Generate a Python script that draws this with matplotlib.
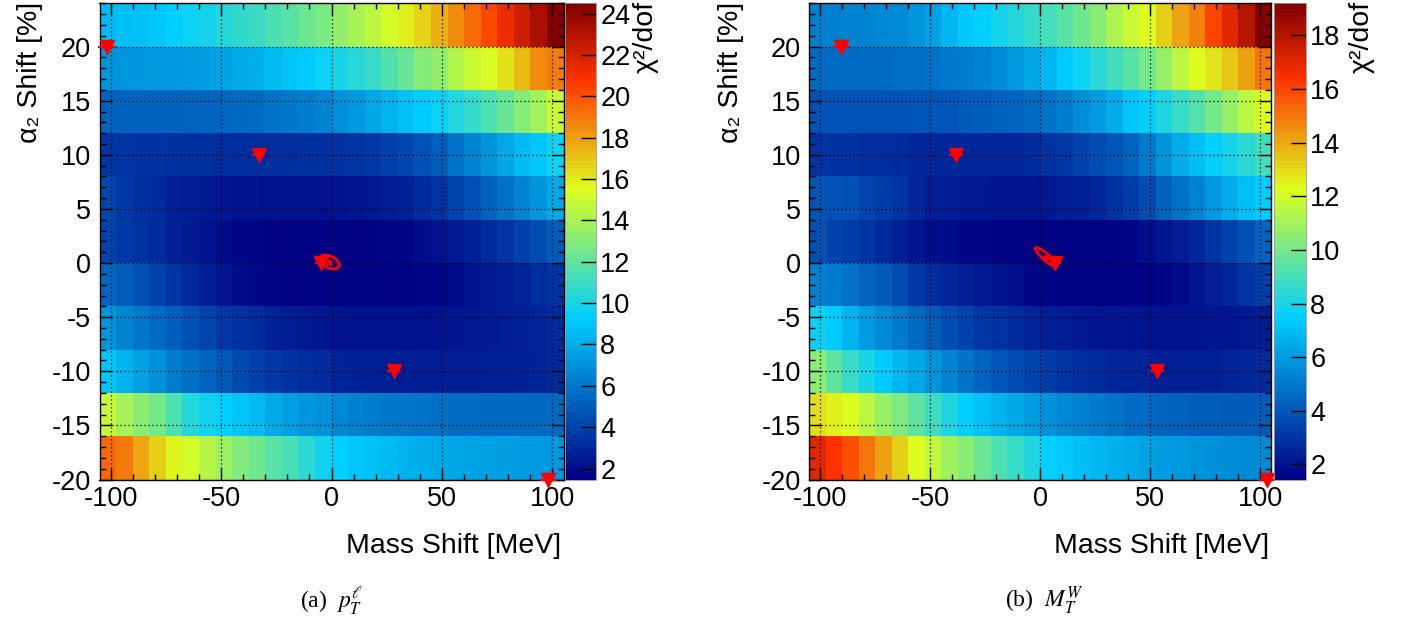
import numpy as np
import matplotlib
matplotlib.use("Agg")
import matplotlib.pyplot as plt
from matplotlib.colors import LinearSegmentedColormap
from matplotlib.ticker import MultipleLocator

plt.rcParams['font.family'] = ['Liberation Sans', 'DejaVu Sans']
plt.rcParams['axes.unicode_minus'] = False
plt.rcParams['mathtext.fontset'] = 'stix'

# ---------------- binning ----------------
mass_edges = np.linspace(-105, 105, 29)     # MeV, 28 bins
alpha_edges = np.linspace(-20, 24, 12)      # %, 11 bins

# ---------------- panel (a) p_T^l : chi2/dof, rows from alpha=-20 upward ----------------
pt_row_m20 = [19.4, 19.0, 17.8, 16.7, 15.7, 15.2, 14.4, 13.7, 12.9, 12.4, 11.8, 11.3, 10.5, 9.8,
              9.3, 9.0, 8.8, 8.5, 8.3, 8.1, 7.9, 7.8, 7.7, 7.6, 7.5, 7.4, 7.4, 7.3]
pt_row_m16 = [14.8, 13.9, 13.2, 12.6, 11.5, 10.3, 9.8, 9.3, 8.9, 8.5, 7.9, 7.5, 7.2, 6.9,
              6.6, 6.4, 6.2, 6.0, 5.9, 5.8, 5.7, 5.6, 5.6, 5.5, 5.5, 5.5, 5.5, 5.5]
pt_row_m12 = [9.0, 8.3, 7.6, 7.0, 6.3, 5.7, 5.3, 4.8, 4.3, 3.9, 3.6, 3.4, 3.2, 3.0,
              2.9, 2.8, 2.7, 2.7, 2.6, 2.6, 2.6, 2.6, 2.6, 2.7, 2.7, 2.8, 2.9, 3.0]
pt_row_m08 = [7.2, 6.5, 6.0, 5.6, 5.1, 4.6, 4.1, 3.7, 3.4, 3.1, 2.8, 2.6, 2.4, 2.3,
              2.2, 2.1, 2.1, 2.1, 2.1, 2.1, 2.2, 2.3, 2.4, 2.5, 2.6, 2.7, 2.9, 3.1]
pt_row_m04 = [5.4, 5.0, 4.5, 4.0, 3.5, 3.0, 2.6, 2.3, 2.0, 1.8, 1.7, 1.6, 1.55, 1.5,
              1.5, 1.5, 1.5, 1.55, 1.6, 1.7, 1.8, 2.0, 2.2, 2.4, 2.6, 2.9, 3.2, 3.5]
pt_row_p00 = [4.0, 3.7, 3.4, 3.1, 2.8, 2.5, 2.2, 2.0, 1.8, 1.7, 1.6, 1.55, 1.5, 1.5,
              1.5, 1.55, 1.6, 1.7, 1.8, 2.0, 2.2, 2.5, 2.8, 3.1, 3.5, 3.9, 4.4, 5.0]
pt_row_p04 = [4.2, 3.7, 3.3, 3.1, 2.8, 2.6, 2.4, 2.3, 2.2, 2.2, 2.1, 2.1, 2.1, 2.1,
              2.2, 2.3, 2.4, 2.6, 2.8, 3.1, 3.5, 4.0, 4.6, 5.2, 5.8, 6.5, 7.2, 7.8]
pt_row_p08 = [3.6, 3.5, 3.4, 3.4, 3.3, 3.3, 3.3, 3.2, 3.2, 3.2, 3.2, 3.2, 3.3, 3.3,
              3.4, 3.5, 3.7, 3.9, 4.2, 4.6, 5.1, 5.8, 6.5, 7.1, 7.8, 8.5, 9.0, 9.7]
pt_row_p12 = [5.3, 5.2, 5.2, 5.2, 5.2, 5.3, 5.3, 5.4, 5.5, 5.6, 5.8, 6.0, 6.2, 6.5,
              6.9, 7.3, 7.8, 8.3, 8.8, 9.2, 9.6, 10.2, 10.8, 11.5, 12.2, 13.0, 13.8, 14.9]
pt_row_p16 = [7.2, 7.2, 7.2, 7.3, 7.3, 7.4, 7.5, 7.7, 7.9, 8.2, 8.5, 8.9, 9.2, 9.6,
              10.0, 10.4, 10.9, 11.6, 12.2, 13.0, 13.4, 14.3, 14.9, 15.4, 16.3, 17.3, 18.5, 18.9]
pt_row_p20 = [8.6, 8.7, 8.8, 9.0, 9.3, 9.6, 9.9, 10.3, 10.7, 11.0, 11.4, 11.8, 12.3, 12.8,
              13.4, 14.0, 14.6, 15.2, 15.9, 16.6, 17.5, 18.5, 19.3, 20.2, 21.3, 22.3, 23.3, 24.4]

# ---------------- panel (b) M_T^W ----------------
mt_row_m20 = [17.0, 16.4, 15.8, 15.0, 14.2, 13.2, 12.3, 11.6, 10.9, 10.4, 9.8, 9.2, 8.7, 8.1,
              7.5, 7.3, 7.0, 6.8, 6.6, 6.4, 6.2, 6.0, 5.9, 5.8, 5.7, 5.6, 5.5, 5.5]
mt_row_m16 = [12.9, 12.6, 12.3, 11.5, 10.8, 10.2, 9.5, 8.8, 8.1, 7.5, 7.1, 6.7, 6.3, 6.0,
              5.7, 5.4, 5.2, 5.0, 4.8, 4.6, 4.5, 4.4, 4.3, 4.2, 4.2, 4.1, 4.1, 4.1]
mt_row_m12 = [10.4, 9.5, 8.7, 8.0, 7.4, 6.8, 6.3, 5.8, 5.3, 4.8, 4.4, 4.0, 3.7, 3.4,
              3.2, 3.0, 2.8, 2.7, 2.6, 2.5, 2.5, 2.4, 2.4, 2.4, 2.4, 2.5, 2.6, 2.7]
mt_row_m08 = [7.7, 7.4, 6.7, 6.0, 5.5, 5.0, 4.5, 4.1, 3.7, 3.4, 3.1, 2.9, 2.7, 2.5,
              2.4, 2.3, 2.2, 2.1, 2.1, 2.0, 2.0, 2.0, 2.0, 2.0, 2.1, 2.1, 2.2, 2.3]
mt_row_m04 = [5.2, 5.0, 4.8, 4.4, 4.1, 3.7, 3.1, 2.8, 2.6, 2.4, 2.2, 2.0, 1.9, 1.7,
              1.6, 1.55, 1.5, 1.5, 1.5, 1.5, 1.55, 1.6, 1.8, 2.1, 2.4, 2.6, 3.0, 3.3]
mt_row_p00 = [3.8, 3.4, 3.2, 3.0, 2.7, 2.4, 2.1, 1.9, 1.8, 1.7, 1.6, 1.5, 1.5, 1.45,
              1.45, 1.45, 1.5, 1.5, 1.55, 1.6, 1.9, 2.1, 2.3, 2.6, 3.0, 3.4, 3.8, 4.4]
mt_row_p04 = [4.0, 3.9, 3.8, 3.5, 3.2, 3.0, 2.6, 2.4, 2.3, 2.2, 2.2, 2.1, 2.1, 2.1,
              2.2, 2.3, 2.4, 2.6, 2.9, 3.2, 3.7, 4.3, 4.8, 5.3, 5.9, 6.5, 7.0, 7.4]
mt_row_p08 = [3.0, 2.9, 2.9, 2.8, 2.8, 2.7, 2.6, 2.6, 2.6, 2.6, 2.6, 2.6, 2.6, 2.7,
              2.9, 3.1, 3.4, 3.7, 4.0, 4.4, 5.0, 5.8, 6.5, 7.0, 7.6, 7.9, 8.4, 8.9]
mt_row_p12 = [3.9, 3.9, 3.9, 3.9, 3.9, 3.9, 4.0, 4.0, 4.0, 4.1, 4.2, 4.3, 4.4, 4.6,
              4.8, 5.1, 5.6, 6.0, 6.5, 7.2, 7.6, 8.1, 8.7, 9.3, 10.0, 10.7, 11.5, 12.3]
mt_row_p16 = [4.6, 4.6, 4.6, 4.6, 4.6, 4.7, 4.7, 4.8, 5.0, 5.1, 5.3, 5.6, 5.9, 6.3,
              6.8, 7.4, 7.8, 8.4, 8.9, 9.4, 10.0, 10.7, 11.5, 12.3, 12.8, 13.4, 14.2, 15.0]
mt_row_p20 = [5.2, 5.2, 5.3, 5.3, 5.4, 5.5, 5.8, 6.2, 6.8, 7.3, 7.5, 7.9, 8.2, 8.6,
              9.0, 9.4, 9.9, 10.4, 11.2, 11.8, 12.4, 13.2, 14.1, 14.8, 16.0, 17.0, 18.0, 19.1]

# colour-axis ranges
pt_zrange = (1.47, 24.5)
mt_zrange = (1.44, 19.2)
pt_cticks = [2, 4, 6, 8, 10, 12, 14, 16, 18, 20, 22, 24]
mt_cticks = [2, 4, 6, 8, 10, 12, 14, 16, 18]

# per-alpha best-fit masses (triangles)
fit_alpha = [20, 10, 0, -10, -20]
pt_fit_mass = [-101.5, -33.0, -4.8, 28.3, 98.2]
mt_fit_mass = [-90.4, -38.2, 7.0, 53.2, 103.0]
fit_mass_err = [4.0, 3.0, 2.5, 3.0, 4.0]

# global best fit + 1-sigma contour parameters (centre, half-width in mass, half-height, tilt)
pt_best = (-1.0, 0.1)
pt_contour = (4.5, 0.58, 0.28)
mt_best = (2.7, 0.55)
mt_contour = (4.8, 0.40, 0.78)

xticks = [-100, -50, 0, 50, 100]
yticks = [-20, -15, -10, -5, 0, 5, 10, 15, 20]

# ---------------- ROOT-like palette ----------------
stops = [0.00, 0.34, 0.61, 0.84, 1.00]
reds = [0.00, 0.00, 0.87, 1.00, 0.51]
greens = [0.00, 0.81, 1.00, 0.20, 0.00]
blues = [0.51, 1.00, 0.12, 0.00, 0.00]
cmap = LinearSegmentedColormap.from_list(
    "rootpal", [(s, (r, g, b)) for s, r, g, b in zip(stops, reds, greens, blues)], N=256)

W, H = 1405, 626
fig = plt.figure(figsize=(W / 100, H / 100), dpi=100)


def fx(px):
    return px / W


def fy(py):
    return 1 - py / H


panels = [
    dict(rows=[pt_row_m20, pt_row_m16, pt_row_m12, pt_row_m08, pt_row_m04, pt_row_p00,
               pt_row_p04, pt_row_p08, pt_row_p12, pt_row_p16, pt_row_p20],
         zr=pt_zrange, cticks=pt_cticks, fitm=pt_fit_mass, best=pt_best, cont=pt_contour,
         ax_px=(99.5, 563.5), cb_px=(564.5, 596), ylab_x=30, cbt_x=646, cap_x=300,
         caption=r"(a)  $p_{T}^{\ell}$"),
    dict(rows=[mt_row_m20, mt_row_m16, mt_row_m12, mt_row_m08, mt_row_m04, mt_row_p00,
               mt_row_p04, mt_row_p08, mt_row_p12, mt_row_p16, mt_row_p20],
         zr=mt_zrange, cticks=mt_cticks, fitm=mt_fit_mass, best=mt_best, cont=mt_contour,
         ax_px=(809, 1271), cb_px=(1274, 1306), ylab_x=731, cbt_x=1362, cap_x=1005,
         caption=r"(b)  $M_{T}^{W}$"),
]

top_px, bot_px = 3.3, 479.5
tick_fs = 19.5
title_fs = 20.5

for p in panels:
    x0, x1 = p["ax_px"]
    ax = fig.add_axes([fx(x0), fy(bot_px), (x1 - x0) / W, (bot_px - top_px) / H])
    Z = np.array(p["rows"])
    mesh = ax.pcolormesh(mass_edges, alpha_edges, Z, cmap=cmap, vmin=p["zr"][0],
                         vmax=p["zr"][1], shading="flat", antialiased=False,
                         edgecolors="face", linewidth=0, zorder=0)
    ax.set_xlim(mass_edges[0], mass_edges[-1])
    ax.set_ylim(alpha_edges[0], alpha_edges[-1])
    ax.set_xticks(xticks)
    ax.set_yticks(yticks)
    ax.xaxis.set_minor_locator(MultipleLocator(10))
    ax.yaxis.set_minor_locator(MultipleLocator(1))
    ax.tick_params(which="both", direction="in", top=True, right=True, width=1.0,
                   labelsize=tick_fs)
    ax.tick_params(which="major", length=8.5)
    ax.tick_params(which="minor", length=4.5)
    ax.tick_params(axis="x", pad=4.5)
    ax.tick_params(axis="y", pad=6)
    for sp in ax.spines.values():
        sp.set_linewidth(1.0)
    ax.grid(True, which="major", color="black", linestyle=(0, (1, 2.2)), linewidth=0.9)
    ax.set_axisbelow(False)

    # per-alpha minima with small mass errors
    ax.errorbar(p["fitm"], fit_alpha, xerr=fit_mass_err, fmt="v", color="red",
                markersize=10, elinewidth=1.5, capsize=0, clip_on=False, zorder=5)
    # 1-sigma contour around global minimum
    t = np.linspace(0, 2 * np.pi, 200)
    cx, cy = p["best"]
    a, b, k = p["cont"]
    ax.plot(cx + a * np.cos(t), cy + b * np.sin(t) - k * np.cos(t), color="red",
            lw=2.0, zorder=6)
    ax.plot([cx], [cy], marker="*", color="red", markersize=5, zorder=7)

    # colour bar
    c0, c1 = p["cb_px"]
    cax = fig.add_axes([fx(c0), fy(bot_px), (c1 - c0) / W, (bot_px - top_px) / H])
    cb = fig.colorbar(mesh, cax=cax, ticks=p["cticks"])
    cb.outline.set_linewidth(0.6)
    cb.outline.set_edgecolor("#999999")
    cax.tick_params(direction="in", length=11, width=1.0, labelsize=tick_fs, pad=3,
                    color="black")
    cax.minorticks_off()

    # titles
    fig.text(fx(p["ylab_x"]), fy(top_px - 1), "α₂ Shift [%]", rotation=90,
             ha="center", va="top", fontsize=title_fs)
    fig.text(fx(x1 - 2), fy(546), "Mass Shift [MeV]", ha="right", va="center",
             fontsize=title_fs)
    fig.text(fx(p["cbt_x"]), fy(1), "χ²/dof", rotation=90, ha="center", va="top",
             fontsize=title_fs)
    fig.text(fx(p["cap_x"]), fy(601), p["caption"], ha="left", va="center",
             fontsize=17, family="Liberation Serif")

fig.savefig("out.png", dpi=100)
